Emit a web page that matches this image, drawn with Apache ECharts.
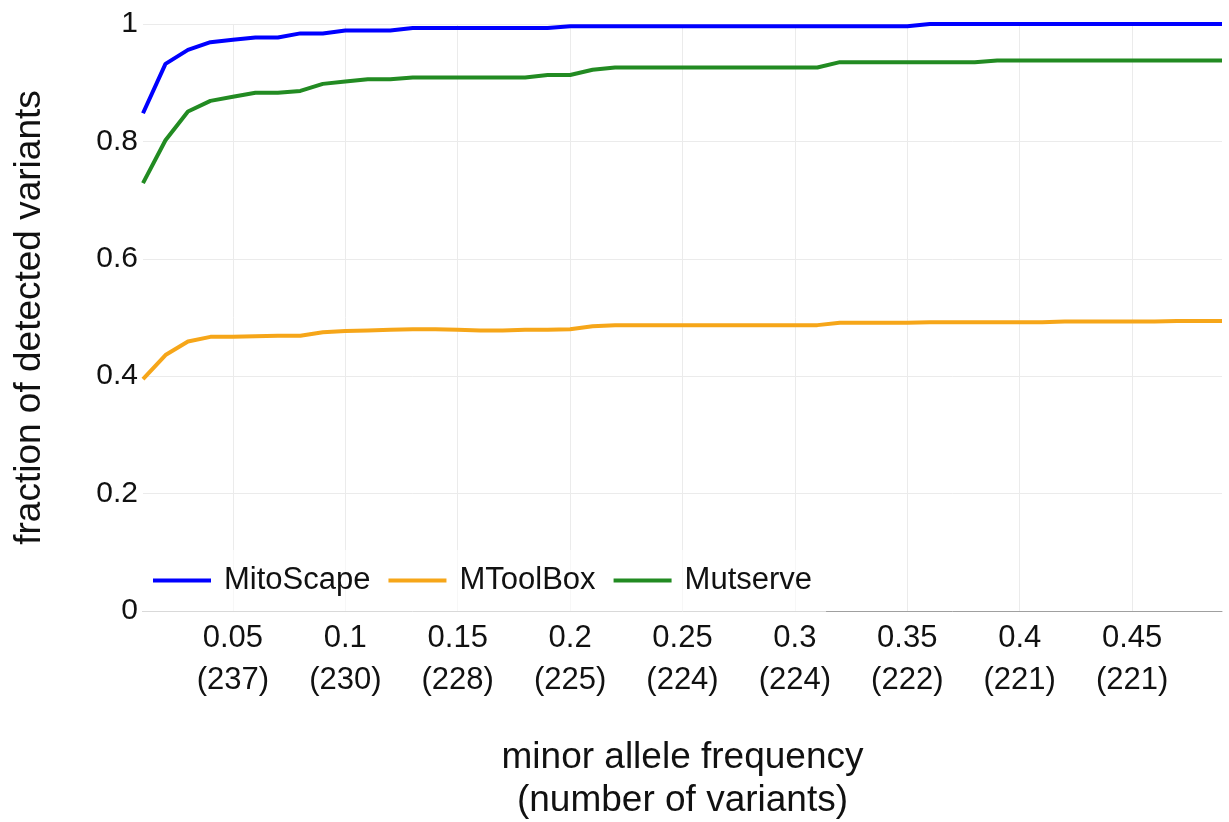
<!DOCTYPE html>
<html>
<head>
<meta charset="utf-8">
<script src="https://cdn.jsdelivr.net/npm/echarts@6/dist/echarts.min.js"></script>
<style>
html,body{margin:0;padding:0;background:#fff;}
#chart{width:1229px;height:822px;}
</style>
</head>
<body>
<div id="chart"></div>
<script>
// minor allele frequency thresholds (x categories)
const maf = ['0.01','0.02','0.03','0.04','0.05','0.06','0.07','0.08','0.09','0.10',
             '0.11','0.12','0.13','0.14','0.15','0.16','0.17','0.18','0.19','0.20',
             '0.21','0.22','0.23','0.24','0.25','0.26','0.27','0.28','0.29','0.30',
             '0.31','0.32','0.33','0.34','0.35','0.36','0.37','0.38','0.39','0.40',
             '0.41','0.42','0.43','0.44','0.45','0.46','0.47','0.48','0.49'];

// tick labels shown on the x axis
const tickValues = ['0.05','0.10','0.15','0.20','0.25','0.30','0.35','0.40','0.45'];
const tickText   = ['0.05','0.1','0.15','0.2','0.25','0.3','0.35','0.4','0.45'];
const tickCounts = [237, 230, 228, 225, 224, 224, 222, 221, 221];

const seriesNames = ['MitoScape', 'MToolBox', 'Mutserve'];

const mitoScape = [0.848,0.932,0.956,0.969,0.973,0.977,0.977,0.984,0.984,0.989,
                   0.989,0.989,0.993,0.993,0.993,0.993,0.993,0.993,0.993,0.996,
                   0.996,0.996,0.996,0.996,0.996,0.996,0.996,0.996,0.996,0.996,
                   0.996,0.996,0.996,0.996,0.996,1.0,1.0,1.0,1.0,1.0,
                   1.0,1.0,1.0,1.0,1.0,1.0,1.0,1.0,1.0];

const mToolBox = [0.395,0.436,0.459,0.467,0.467,0.468,0.469,0.469,0.475,0.477,
                  0.478,0.479,0.480,0.480,0.479,0.478,0.478,0.479,0.479,0.480,
                  0.485,0.487,0.487,0.487,0.487,0.487,0.487,0.487,0.487,0.487,
                  0.487,0.491,0.491,0.491,0.491,0.492,0.492,0.492,0.492,0.492,
                  0.492,0.493,0.493,0.493,0.493,0.493,0.494,0.494,0.494];

const mutserve = [0.729,0.802,0.851,0.869,0.876,0.883,0.883,0.886,0.898,0.902,
                  0.906,0.906,0.909,0.909,0.909,0.909,0.909,0.909,0.913,0.913,
                  0.922,0.926,0.926,0.926,0.926,0.926,0.926,0.926,0.926,0.926,
                  0.926,0.935,0.935,0.935,0.935,0.935,0.935,0.935,0.938,0.938,
                  0.938,0.938,0.938,0.938,0.938,0.938,0.938,0.938,0.938];

const colors = ['#0000ff', '#f6a619', '#228b22'];
const FONT = '"Liberation Sans", Arial, sans-serif';

const isTick = (idx, val) => tickValues.indexOf(val) >= 0;

const chart = echarts.init(document.getElementById('chart'), null, {renderer: 'canvas'});
chart.setOption({
  animation: false,
  backgroundColor: '#fff',
  textStyle: {fontFamily: FONT},
  color: colors,
  grid: {left: 143, right: 7, top: 24, bottom: 211, containLabel: false, outerBoundsMode: 'none'},
  legend: {
    data: seriesNames,
    left: 143,
    top: 550,
    orient: 'horizontal',
    icon: 'rect',
    itemWidth: 58,
    itemHeight: 4,
    itemGap: 18,
    padding: [15, 14, 17, 10],
    backgroundColor: 'rgba(255,255,255,0.6)',
    textStyle: {fontSize: 31, color: '#111', fontFamily: FONT, padding: [0, 0, 0, 8]}
  },
  xAxis: {
    type: 'category',
    data: maf,
    boundaryGap: false,
    name: 'minor allele frequency\n(number of variants)',
    nameLocation: 'middle',
    nameGap: 125,
    nameTextStyle: {fontSize: 37, color: '#111', lineHeight: 43, fontFamily: FONT},
    axisLine: {show: true, lineStyle: {color: '#a0a0a0', width: 1}},
    axisTick: {show: false},
    axisLabel: {
      interval: isTick,
      fontSize: 31,
      lineHeight: 42,
      margin: 6,
      color: '#111',
      fontFamily: FONT,
      formatter: function (val) {
        const i = tickValues.indexOf(val);
        return i >= 0 ? tickText[i] + '\n(' + tickCounts[i] + ')' : '';
      }
    },
    splitLine: {show: true, interval: isTick, lineStyle: {color: '#ebebeb', width: 1}}
  },
  yAxis: {
    type: 'value',
    min: 0,
    max: 1,
    interval: 0.2,
    name: 'fraction of detected variants',
    nameLocation: 'middle',
    nameGap: 95,
    nameTextStyle: {fontSize: 37, color: '#111', fontFamily: FONT},
    axisLine: {show: false},
    axisTick: {show: false},
    axisLabel: {fontSize: 30, color: '#111', margin: 5, fontFamily: FONT},
    splitLine: {show: true, lineStyle: {color: '#ebebeb', width: 1}}
  },
  series: [
    {name: seriesNames[0], type: 'line', data: mitoScape, showSymbol: false, symbol: 'none',
     lineStyle: {width: 4, color: colors[0]}, itemStyle: {color: colors[0]}, z: 3},
    {name: seriesNames[1], type: 'line', data: mToolBox, showSymbol: false, symbol: 'none',
     lineStyle: {width: 4, color: colors[1]}, itemStyle: {color: colors[1]}, z: 2},
    {name: seriesNames[2], type: 'line', data: mutserve, showSymbol: false, symbol: 'none',
     lineStyle: {width: 4, color: colors[2]}, itemStyle: {color: colors[2]}, z: 2}
  ]
});
</script>
</body>
</html>
